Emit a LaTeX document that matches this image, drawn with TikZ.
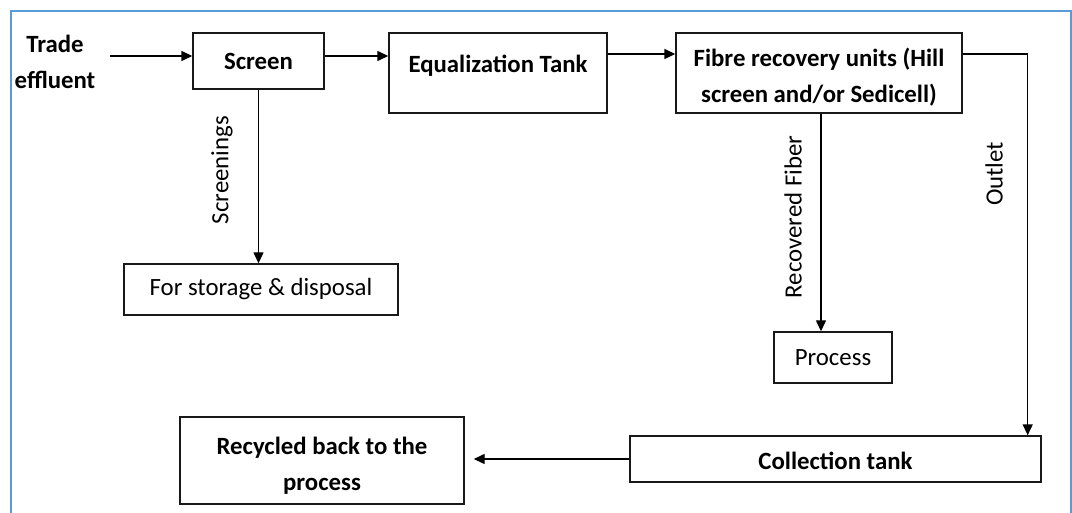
\documentclass[tikz,border=0pt]{standalone}
\usepackage{fontspec}
\setmainfont{Carlito}
\usetikzlibrary{arrows.meta}
\definecolor{framebl}{RGB}{91,155,213}

\begin{document}
\fontsize{24.8}{36}\selectfont
\begin{tikzpicture}[x=1pt, y=-1pt,
		box/.style={draw=black!90, line width=1.4pt, inner sep=0pt, align=center, font=\bfseries},
		plainbox/.style={box, font=\mdseries},
		flow/.style={line width=1.4pt, -{Triangle[length=11pt,width=10pt]}},
		lbl/.style={rotate=90, inner sep=0pt}]
		%%%%% START %%%%%
		
		\useasboundingbox (0,0) rectangle (1072,513);
		\draw[framebl, line width=1.5pt] (11,530) -- (11,11) -- (1071,11) -- (1071,530);
		
		\node[font=\bfseries, align=center, inner sep=0pt] (trade) at (55,62) {Trade\\effluent};
		\node[box, minimum width=131pt, minimum height=56pt] (screen) at (258.5,61) {Screen};
		\node[box, minimum width=218pt, minimum height=80pt, text depth=18pt] (eqtank) at (498,73) {Equalization Tank};
		\node[box, minimum width=286pt, minimum height=80pt] (fibre) at (819,73) {\rule{0pt}{27pt}Fibre recovery units (Hill\\screen and/or Sedicell)};
		
		\node[plainbox, minimum width=274pt, minimum height=51pt] (storage) at (261,289.5) {For storage \& disposal};
		\node[plainbox, minimum width=118pt, minimum height=51pt] (process) at (833,357.5) {Process};
		
		\node[box, minimum width=411pt, minimum height=46pt, text height=21pt] (collect) at (835.5,459) {Collection tank};
		\node[box, minimum width=284pt, minimum height=87pt] (recycled) at (322,460.5) {\rule{0pt}{27pt}Recycled back to the\\process};
		
		\coordinate (feed) at (110,56);
		\draw[flow] (feed) -- (feed -| screen.west);
		\draw[flow] (screen.east |- feed) -- (eqtank.west |- feed);
		\draw[flow] ([yshift=19pt]eqtank.east) -- ([yshift=19pt]fibre.west);
		
		\draw[flow] (screen.south) -- (screen.south |- storage.north);
		\node[lbl] (screenings) at (222,170) {Screenings};
		
		\draw[flow] ([xshift=2pt]fibre.south) -- ([xshift=2pt]fibre.south |- process.north);
		\node[lbl] (recovered) at (793,217) {Recovered Fiber};
		
		\draw[flow] ([yshift=19pt]fibre.east) -| ([xshift=-14pt]collect.north east);
		\node[lbl] (outlet) at (994,174) {Outlet};
		
		\draw[flow, shorten >=9pt] (collect.west) -- (collect.west -| recycled.east);
		
		%%%%% END %%%%%
	\end{tikzpicture}
\end{document}
